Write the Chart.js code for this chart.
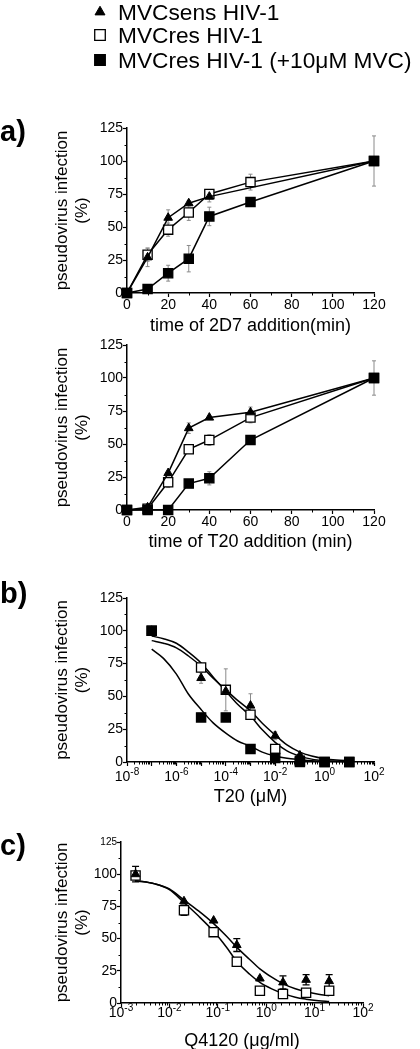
<!DOCTYPE html>
<html><head><meta charset="utf-8">
<script src="https://cdn.jsdelivr.net/npm/chart.js@4.4.0/dist/chart.umd.min.js"></script>
<style>
html,body{margin:0;padding:0;background:#fff;overflow:hidden;width:420px;height:1049px;}
canvas{position:absolute;left:0;}
</style></head><body>
<canvas id="a1"></canvas><canvas id="a2"></canvas><canvas id="b"></canvas><canvas id="c"></canvas>
<script>
// ---------------- DATA ----------------
const SERIES_LABELS = ['MVCsens HIV-1', 'MVCres HIV-1', 'MVCres HIV-1 (+10μM MVC)'];
const PANEL_LABELS = ['a)', 'b)', 'c)'];
const Y_TITLE = ['pseudovirus infection', '(%)'];
const X_TITLES = ['time of 2D7 addition(min)', 'time of T20 addition (min)', 'T20 (μM)', 'Q4120 (μg/ml)'];
const Y_TICKS = [0, 25, 50, 75, 100, 125];
const TIME_TICKS = [0, 20, 40, 60, 80, 100, 120];
const B_TICK_EXP = [-8, -7, -6, -5, -4, -3, -2, -1, 0, 1, 2];
const B_LABEL_EXP = [-8, -6, -4, -2, 0, 2];
const C_TICK_EXP = [-3, -2, -1, 0, 1, 2];
const C_LABEL_EXP = [-3, -2, -1, 0, 1, 2];

// a) 2D7
const a1SensX = [0, 10, 20, 30, 40, 120];
const a1SensY = [0, 27, 57, 68, 73, 100];
const a1SensErr = [0, 7, 6, 2, 4, 0];
const a1ResX = [0, 10, 20, 30, 40, 60, 120];
const a1ResY = [0, 29, 48, 61, 75, 84, 100];
const a1ResErr = [0, 5, 5, 6, 3, 6, 19];
const a1MvcX = [0, 10, 20, 30, 40, 60, 120];
const a1MvcY = [0, 3, 15, 26, 58, 69, 100];
const a1MvcErr = [0, 0, 6, 10, 7, 1, 0];

// a) T20
const a2X = [0, 10, 20, 30, 40, 60, 120];
const a2SensY = [0, 2, 28, 62, 70, 74, 100];
const a2SensErr = [0, 0, 0, 4, 0, 4, 0];
const a2ResY = [0, 1, 21, 46, 53, 70, 100];
const a2ResErr = [0, 0, 4, 2, 4, 4, 13];
const a2MvcY = [0, 0, 0, 20, 24, 53, 100];
const a2MvcErr = [0, 0, 0, 0, 5, 0, 0];

// b) T20 dose response
const bX = [1e-7, 1e-5, 1e-4, 1e-3, 1e-2, 1e-1, 1, 10];
const bSensY = [100, 64, 54, 43, 20, 5, 0, 0];
const bSensErr = [0, 4, 0, 9, 3, 0, 0, 0];
const bResY = [100, 72, 55, 36, 10, 1, 0, 0];
const bResErr = [0, 0, 16, 0, 0, 0, 0, 0];
const bMvcY = [100, 34, 34, 10, 3, 0, 0, 0];
const bFitX = [1e-7, 3e-7, 1e-6, 3e-6, 1e-5, 3e-5, 1e-4, 3e-4, 1e-3, 3e-3, 1e-2, 3e-2, 1e-1, 3e-1, 1, 3, 10];
const bFitSens = [92.5, 90.5, 87, 81, 73, 64, 55, 47, 39, 29.5, 20.5, 13, 7.5, 4.5, 2.5, 1.5, 1];
const bFitRes = [96, 94, 90.5, 84, 75.5, 65, 54, 44, 35, 24.5, 15, 8.5, 4.5, 2.2, 1, 0.5, 0.3];
const bFitMvc = [86, 79, 67, 52, 40, 30, 22, 16, 12, 7.5, 4.5, 2.8, 1.8, 1, 0.6, 0.4, 0.3];

// c) Q4120 dose response
const cX = [0.002, 0.02, 0.082, 0.247, 0.741, 2.22, 6.67, 20];
const cSensY = [100, 79, 64, 45, 19, 16, 18, 17];
const cSensErr = [6, 0, 0, 5, 0, 5, 4, 5];
const cResY = [99, 72, 55, 32, 9.5, 7, 8, 9.5];
const cResErr = [0, 4, 0, 0, 0, 0, 0, 0];
const cFitX = [0.002, 0.005, 0.01, 0.02, 0.04, 0.08, 0.15, 0.25, 0.45, 0.74, 1.3, 2.2, 4, 6.6, 12, 20];
const cFitSens = [95, 92.5, 88.5, 80, 71.5, 62, 52, 43, 34, 26.5, 20, 15, 11, 8.8, 6.8, 5.6];
const cFitRes = [95, 92.5, 88, 78, 67.5, 56, 43.5, 32, 22.5, 16, 11, 7.5, 4.5, 3, 1.8, 1.2];

// ---------------- RENDERING ----------------
const FONT = '"Liberation Sans", Arial, Helvetica, sans-serif';
Chart.defaults.font.family = FONT;
Chart.defaults.color = '#000';

function pts(xs, ys) { return xs.map((x, i) => ({ x: x, y: ys[i] })); }

const STYLE = {
  sens: { pointStyle: 'triangle', pointRadius: 5, pointBackgroundColor: '#000', pointBorderWidth: 1, order: 1 },
  res:  { pointStyle: 'rect', pointRadius: 6.5, pointBackgroundColor: '#fff', pointBorderWidth: 1.3, order: 2 },
  mvc:  { pointStyle: 'rect', pointRadius: 6.5, pointBackgroundColor: '#000', pointBorderWidth: 1.3, order: 0 }
};

function markerDs(label, key, xs, ys, showLine) {
  return Object.assign({
    label: label, data: pts(xs, ys), showLine: showLine,
    borderColor: '#000', borderWidth: 1.5, pointBorderColor: '#000',
    pointHoverRadius: 0, clip: false, fill: false, tension: 0
  }, STYLE[key]);
}
function fitDs(xs, ys) {
  return { label: 'fit', data: pts(xs, ys), showLine: true, pointRadius: 0, borderColor: '#000',
    borderWidth: 1.5, cubicInterpolationMode: 'monotone', clip: false, fill: false, order: 10 };
}

function drawMarker(ctx, ds, x, y, scale) {
  const r = ds.pointRadius * scale;
  ctx.beginPath();
  if (ds.pointStyle === 'triangle') {
    ctx.moveTo(x, y - r);
    ctx.lineTo(x + r * 0.866, y + r * 0.5);
    ctx.lineTo(x - r * 0.866, y + r * 0.5);
    ctx.closePath();
  } else {
    const s = r * Math.SQRT1_2;
    ctx.rect(x - s, y - s, 2 * s, 2 * s);
  }
  ctx.fillStyle = ds.pointBackgroundColor; ctx.fill();
  ctx.lineWidth = ds.pointBorderWidth; ctx.strokeStyle = '#000'; ctx.stroke();
}

function makeDecor(cfg) {
  return {
    id: 'decor',
    beforeDatasetsDraw(chart) {
      const ctx = chart.ctx, xs = chart.scales.x, ys = chart.scales.y;
      (cfg.errors || []).forEach(e => {
        const data = chart.data.datasets[e.ds].data;
        ctx.save();
        ctx.strokeStyle = cfg.errColor; ctx.lineWidth = cfg.errWidth;
        e.values.forEach((v, i) => {
          if (!v) return;
          const px = xs.getPixelForValue(data[i].x);
          const pT = ys.getPixelForValue(data[i].y + v);
          const pB = ys.getPixelForValue(data[i].y - v);
          ctx.beginPath();
          ctx.moveTo(px, pT); ctx.lineTo(px, pB);
          ctx.moveTo(px - cfg.capHalf, pT); ctx.lineTo(px + cfg.capHalf, pT);
          ctx.moveTo(px - cfg.capHalf, pB); ctx.lineTo(px + cfg.capHalf, pB);
          ctx.stroke();
        });
        ctx.restore();
      });
    },
    afterDraw(chart) {
      const ctx = chart.ctx, xs = chart.scales.x, ys = chart.scales.y, A = chart.chartArea;
      ctx.save();
      // minor ticks
      ctx.strokeStyle = '#000'; ctx.lineWidth = 1;
      ctx.beginPath();
      (cfg.yMinor || []).forEach(v => {
        const py = Math.round(ys.getPixelForValue(v)) + 0.5;
        ctx.moveTo(A.left, py); ctx.lineTo(A.left - 2.5, py);
      });
      (cfg.xMinor || []).forEach(v => {
        const px = Math.round(xs.getPixelForValue(v)) + 0.5;
        ctx.moveTo(px, A.bottom); ctx.lineTo(px, A.bottom + 2.5);
      });
      ctx.stroke();
      // log tick labels with superscript exponents
      if (cfg.logLabels) {
        const L = cfg.logLabels;
        ctx.fillStyle = '#000'; ctx.textBaseline = 'middle'; ctx.textAlign = 'left';
        L.exps.forEach(k => {
          const px = xs.getPixelForValue(Math.pow(10, k));
          const es = String(k);
          ctx.font = L.baseSize + 'px ' + FONT; const wb = ctx.measureText('10').width;
          ctx.font = L.expSize + 'px ' + FONT; const we = ctx.measureText(es).width;
          const x0 = px - (wb + we) / 2;
          ctx.font = L.baseSize + 'px ' + FONT; ctx.fillText('10', x0, L.y);
          ctx.font = L.expSize + 'px ' + FONT; ctx.fillText(es, x0 + wb, L.y - L.raise);
        });
      }
      // panel label
      if (cfg.panel) {
        ctx.fillStyle = '#000'; ctx.textAlign = 'left'; ctx.textBaseline = 'alphabetic';
        ctx.font = 'bold ' + cfg.panel.size + 'px ' + FONT;
        ctx.fillText(cfg.panel.text, cfg.panel.x, cfg.panel.y - cfg.canvasTop);
      }
      // legend
      if (cfg.legend) {
        const Lg = cfg.legend;
        Lg.rows.forEach((row, i) => {
          const ds = chart.data.datasets[row.ds];
          const y = Lg.ys[i] - cfg.canvasTop;
          drawMarker(ctx, ds, Lg.markerX, y, Lg.markerScale);
          ctx.fillStyle = '#000'; ctx.textAlign = 'left'; ctx.textBaseline = 'alphabetic';
          ctx.font = Lg.size + 'px ' + FONT;
          ctx.fillText(ds.label, Lg.textX, y + Lg.baseOff);
        });
      }
      ctx.restore();
    }
  };
}

function makeChart(id, cfg) {
  const cv = document.getElementById(id);
  const top = cfg.canvasTop, H = cfg.canvasH, A = cfg.area;
  cv.width = 420; cv.height = H;
  cv.style.top = top + 'px'; cv.style.width = '420px'; cv.style.height = H + 'px';
  const padLeft = 45;
  const yW = A.l - padLeft;
  const xH = (top + H) - A.b;
  const titlePadBottom = (top + H) - cfg.xTitleY - 18 * 1.2 / 2;
  const isLog = cfg.xType === 'logarithmic';
  const axisGrid = { drawOnChartArea: false, drawTicks: true, tickLength: 4, tickColor: '#000', tickWidth: 1.2, color: '#000' };
  const axisBorder = { display: true, color: '#000', width: 1.5 };
  new Chart(cv, {
    type: 'scatter',
    data: { datasets: cfg.datasets },
    options: {
      responsive: false, animation: false, devicePixelRatio: 1,
      events: [],
      layout: { padding: { left: padLeft, right: 420 - A.r, top: A.t - top, bottom: 0 } },
      plugins: { legend: { display: false }, tooltip: { enabled: false } },
      scales: {
        x: {
          type: cfg.xType, min: cfg.xMin, max: cfg.xMax, position: 'bottom',
          afterFit: s => { s.height = xH; },
          afterBuildTicks: s => { s.ticks = cfg.xTicks.map(v => ({ value: v })); },
          ticks: { display: !isLog, autoSkip: false, maxRotation: 0, padding: 0, color: '#000', font: { size: 14 } },
          grid: axisGrid, border: axisBorder,
          title: { display: true, text: cfg.xTitle, color: '#000', font: { size: 18 }, padding: { top: 0, bottom: titlePadBottom } }
        },
        y: {
          type: 'linear', min: 0, max: 125,
          afterFit: s => { s.width = yW; },
          afterBuildTicks: s => { s.ticks = Y_TICKS.map(v => ({ value: v })); },
          ticks: { autoSkip: false, padding: 0, color: '#000',
            font: c => ({ size: (cfg.smallTop && c.tick && c.tick.value === 125) ? 10 : 14 }) },
          grid: axisGrid, border: axisBorder,
          title: { display: true, text: Y_TITLE, color: '#000', font: { size: 17 }, padding: { top: 6.8, bottom: 0 } }
        }
      }
    },
    plugins: [makeDecor(cfg)]
  });
}

function decades(exps) { return exps.map(k => Math.pow(10, k)); }
function logMinor(exps) {
  const out = [];
  for (let i = 0; i < exps.length - 1; i++) for (let m = 2; m <= 9; m++) out.push(m * Math.pow(10, exps[i]));
  return out;
}
const Y_MINOR = [12.5, 37.5, 62.5, 87.5, 112.5];
const TIME_MINOR = [10, 30, 50, 70, 90, 110];

// panel a (2D7)
makeChart('a1', {
  canvasTop: 0, canvasH: 340, area: { l: 127, r: 374, t: 128, b: 293 },
  xType: 'linear', xMin: 0, xMax: 120, xTicks: TIME_TICKS, xTitle: X_TITLES[0], xTitleY: 326,
  datasets: [
    markerDs(SERIES_LABELS[0], 'sens', a1SensX, a1SensY, true),
    markerDs(SERIES_LABELS[1], 'res', a1ResX, a1ResY, true),
    markerDs(SERIES_LABELS[2], 'mvc', a1MvcX, a1MvcY, true)
  ],
  errors: [{ ds: 0, values: a1SensErr }, { ds: 1, values: a1ResErr }, { ds: 2, values: a1MvcErr }],
  errColor: '#8a8a8a', errWidth: 1, capHalf: 2,
  yMinor: Y_MINOR, xMinor: TIME_MINOR,
  panel: { text: PANEL_LABELS[0], x: 0, y: 141, size: 29 },
  legend: { rows: [{ ds: 0 }, { ds: 1 }, { ds: 2 }], ys: [12, 35, 60], markerX: 100, markerScale: 1.15, textX: 118, size: 22.7, baseOff: 8 }
});

// panel a (T20)
makeChart('a2', {
  canvasTop: 325, canvasH: 230, area: { l: 127, r: 374, t: 345, b: 510 },
  xType: 'linear', xMin: 0, xMax: 120, xTicks: TIME_TICKS, xTitle: X_TITLES[1], xTitleY: 542,
  datasets: [
    markerDs(SERIES_LABELS[0], 'sens', a2X, a2SensY, true),
    markerDs(SERIES_LABELS[1], 'res', a2X, a2ResY, true),
    markerDs(SERIES_LABELS[2], 'mvc', a2X, a2MvcY, true)
  ],
  errors: [{ ds: 0, values: a2SensErr }, { ds: 1, values: a2ResErr }, { ds: 2, values: a2MvcErr }],
  errColor: '#8a8a8a', errWidth: 1, capHalf: 2,
  yMinor: Y_MINOR, xMinor: TIME_MINOR
});

// panel b
makeChart('b', {
  canvasTop: 570, canvasH: 245, area: { l: 127, r: 374, t: 598, b: 762 },
  xType: 'logarithmic', xMin: 1e-8, xMax: 1e2, xTicks: decades(B_TICK_EXP), xTitle: X_TITLES[2], xTitleY: 797,
  datasets: [
    markerDs(SERIES_LABELS[0], 'sens', bX, bSensY, false),
    markerDs(SERIES_LABELS[1], 'res', bX, bResY, false),
    markerDs(SERIES_LABELS[2], 'mvc', bX, bMvcY, false),
    fitDs(bFitX, bFitSens), fitDs(bFitX, bFitRes), fitDs(bFitX, bFitMvc)
  ],
  errors: [{ ds: 0, values: bSensErr }, { ds: 1, values: bResErr }],
  errColor: '#8a8a8a', errWidth: 1, capHalf: 2,
  yMinor: Y_MINOR, xMinor: logMinor(B_TICK_EXP),
  logLabels: { exps: B_LABEL_EXP, y: 777 - 570, baseSize: 14, expSize: 10, raise: 5 },
  panel: { text: PANEL_LABELS[1], x: 0, y: 603, size: 29 }
});

// panel c
makeChart('c', {
  canvasTop: 815, canvasH: 240, area: { l: 121, r: 363, t: 842, b: 1003 },
  xType: 'logarithmic', xMin: 1e-3, xMax: 1e2, xTicks: decades(C_TICK_EXP), xTitle: X_TITLES[3], xTitleY: 1041,
  smallTop: true,
  datasets: [
    markerDs(SERIES_LABELS[0], 'sens', cX, cSensY, false),
    markerDs(SERIES_LABELS[1], 'res', cX, cResY, false),
    fitDs(cFitX, cFitSens), fitDs(cFitX, cFitRes)
  ],
  errors: [{ ds: 0, values: cSensErr }, { ds: 1, values: cResErr }],
  errColor: '#000', errWidth: 1.3, capHalf: 3.5,
  yMinor: Y_MINOR, xMinor: logMinor(C_TICK_EXP),
  logLabels: { exps: C_LABEL_EXP, y: 1013.5 - 815, baseSize: 14, expSize: 10, raise: 5 },
  panel: { text: PANEL_LABELS[2], x: 0, y: 855, size: 29 }
});
</script>
</body></html>
